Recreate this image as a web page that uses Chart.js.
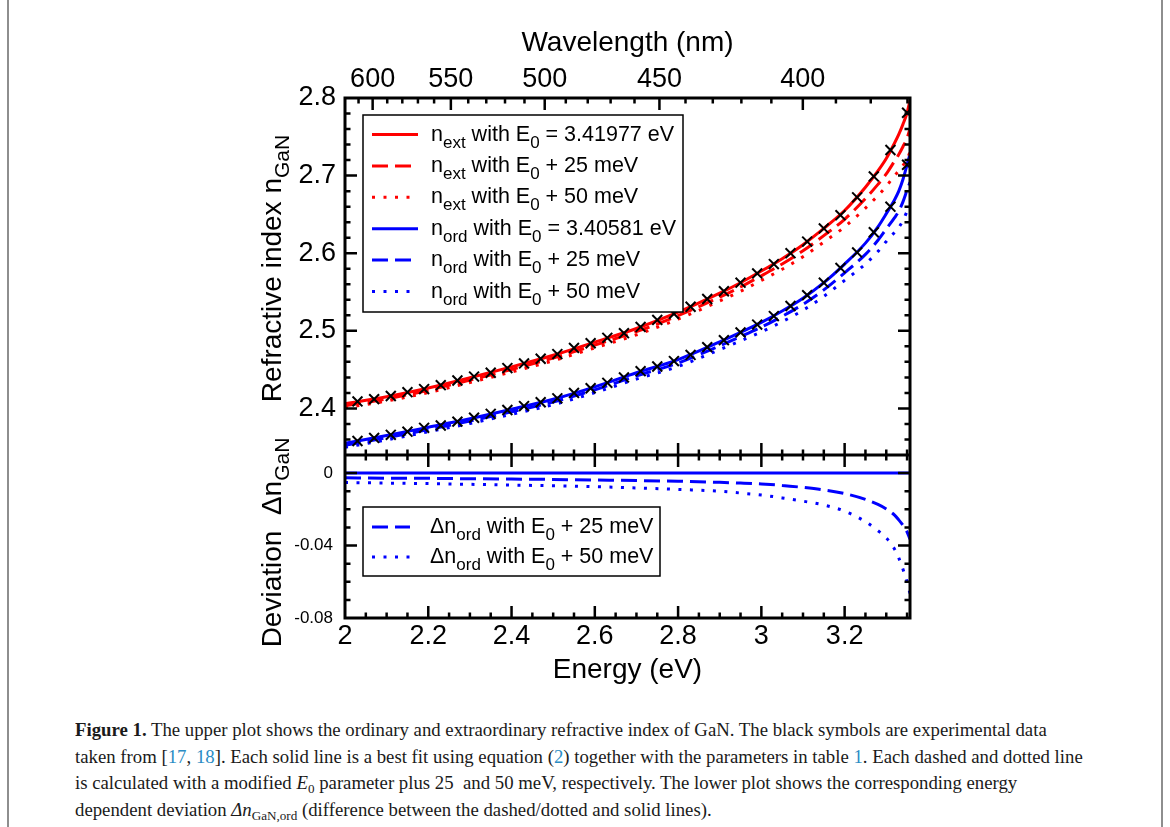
<!DOCTYPE html>
<html>
<head>
<meta charset="utf-8">
<script src="https://cdn.jsdelivr.net/npm/chart.js@4.4.1/dist/chart.umd.min.js"></script>
<style>
html,body{margin:0;padding:0;background:#fff;}
body{width:1170px;height:827px;position:relative;overflow:hidden;}
#c{position:absolute;left:0;top:0;}
.frame{position:absolute;top:0;width:2px;height:827px;background:#8e8e8e;}
#cap{position:absolute;left:75px;top:717px;font-family:"Liberation Serif","DejaVu Serif",serif;font-size:18px;line-height:26.5px;color:#1a1a1a;}
.ln{white-space:nowrap;transform-origin:0 0;height:26.5px;}
.ref{color:#2a8cc4;}
.sb{font-size:70%;position:relative;top:4px;line-height:0;}
</style>
</head>
<body>
<div class="frame" style="left:7px"></div>
<div class="frame" style="left:1161px"></div>
<canvas id="c" width="1170" height="700"></canvas>
<div id="cap">
<div class="ln"><b>Figure 1.</b> The upper plot shows the ordinary and extraordinary refractive index of GaN. The black symbols are experimental data</div>
<div class="ln">taken from [<span class="ref">17</span>, <span class="ref">18</span>]. Each solid line is a best fit using equation (<span class="ref">2</span>) together with the parameters in table <span class="ref">1</span>. Each dashed and dotted line</div>
<div class="ln">is calculated with a modified <i>E</i><span class="sb">0</span> parameter plus 25&nbsp; and 50 meV, respectively. The lower plot shows the corresponding energy</div>
<div class="ln">dependent deviation <i>Δn</i><span class="sb">GaN,ord</span> (difference between the dashed/dotted and solid lines).</div>
</div>
<script>
// ---------------- data ----------------
const energyGrid = [2.0, 2.1, 2.2, 2.3, 2.4, 2.5, 2.6, 2.7, 2.8, 2.9, 2.95, 3.0, 3.05, 3.1, 3.15, 3.2, 3.25, 3.28, 3.30, 3.32, 3.33, 3.34, 3.35, 3.357];
const nExtFit = [2.406, 2.415, 2.4263, 2.4395, 2.4535, 2.4685, 2.4855, 2.503, 2.524, 2.5485, 2.562, 2.577, 2.593, 2.611, 2.632, 2.655, 2.685, 2.706, 2.722, 2.742, 2.753, 2.766, 2.781, 2.797];
const nExt25 = [2.4034, 2.4122, 2.4234, 2.4364, 2.4502, 2.465, 2.4817, 2.4989, 2.5195, 2.5434, 2.5565, 2.571, 2.5862, 2.6031, 2.6227, 2.6437, 2.6705, 2.6887, 2.7022, 2.7188, 2.7272, 2.7372, 2.7485, 2.7605];
const nExt50 = [2.4008, 2.4095, 2.4205, 2.4333, 2.4469, 2.4615, 2.478, 2.4948, 2.515, 2.5385, 2.551, 2.5649, 2.5793, 2.5955, 2.6144, 2.634, 2.6582, 2.6742, 2.6862, 2.7, 2.7062, 2.713, 2.721, 2.7305];
const nOrdFit = [2.355, 2.365, 2.3758, 2.3868, 2.399, 2.4118, 2.4278, 2.446, 2.463, 2.4858, 2.498, 2.5108, 2.5255, 2.542, 2.562, 2.586, 2.613, 2.634, 2.651, 2.669, 2.680, 2.695, 2.714, 2.728];
const nOrd25 = [2.3524, 2.3622, 2.3729, 2.3837, 2.3957, 2.4083, 2.424, 2.4419, 2.4585, 2.4807, 2.4925, 2.5048, 2.5187, 2.5341, 2.5527, 2.5747, 2.5985, 2.6167, 2.6312, 2.6458, 2.6542, 2.6662, 2.6815, 2.6915];
const nOrd50 = [2.3498, 2.3595, 2.37, 2.3806, 2.3924, 2.4048, 2.4203, 2.4378, 2.454, 2.4758, 2.487, 2.4987, 2.5118, 2.5265, 2.5444, 2.565, 2.5862, 2.6022, 2.6152, 2.627, 2.6332, 2.642, 2.654, 2.6615];
const devOrd25 = [-0.0026, -0.0028, -0.0029, -0.0031, -0.0033, -0.0035, -0.0038, -0.0041, -0.0045, -0.0051, -0.0055, -0.0060, -0.0068, -0.0079, -0.0093, -0.0113, -0.0145, -0.0173, -0.0198, -0.0232, -0.0258, -0.0288, -0.0325, -0.0365];
const devOrd50 = [-0.0052, -0.0055, -0.0058, -0.0062, -0.0066, -0.0070, -0.0075, -0.0082, -0.0090, -0.0100, -0.0110, -0.0121, -0.0137, -0.0155, -0.0176, -0.0210, -0.0268, -0.0318, -0.0358, -0.0420, -0.0468, -0.0530, -0.0600, -0.0665];
const devFitEnergy = [2.0, 3.357];
const devOrdFit = [0, 0];
const expEnergy = [2.03, 2.07, 2.11, 2.15, 2.19, 2.23, 2.27, 2.31, 2.35, 2.39, 2.43, 2.47, 2.51, 2.55, 2.59, 2.63, 2.67, 2.71, 2.75, 2.79, 2.83, 2.87, 2.91, 2.95, 2.99, 3.03, 3.07, 3.11, 3.15, 3.19, 3.23, 3.27, 3.31, 3.35];
const expNExt = [2.409, 2.412, 2.416, 2.421, 2.425, 2.430, 2.436, 2.441, 2.446, 2.452, 2.458, 2.464, 2.470, 2.478, 2.484, 2.491, 2.497, 2.505, 2.514, 2.522, 2.531, 2.541, 2.551, 2.562, 2.574, 2.586, 2.600, 2.615, 2.632, 2.649, 2.672, 2.699, 2.733, 2.781];
const expNOrd = [2.358, 2.362, 2.366, 2.370, 2.375, 2.378, 2.383, 2.388, 2.393, 2.398, 2.403, 2.408, 2.413, 2.420, 2.426, 2.433, 2.440, 2.448, 2.454, 2.461, 2.469, 2.479, 2.488, 2.498, 2.508, 2.519, 2.532, 2.546, 2.562, 2.581, 2.601, 2.627, 2.660, 2.714];

// ticks & labels
const energyTicks = [2, 2.2, 2.4, 2.6, 2.8, 3, 3.2];
const energyTickLabels = ['2', '2.2', '2.4', '2.6', '2.8', '3', '3.2'];
const wavelengthTicks = [600, 550, 500, 450, 400];
const nTicks = [2.4, 2.5, 2.6, 2.7, 2.8];
const nTickLabels = ['2.4', '2.5', '2.6', '2.7', '2.8'];
const devTicks = [-0.08, -0.04, 0];
const devTickLabels = ['-0.08', '-0.04', '0'];
const hc = 1239.84; // eV*nm, energy <-> wavelength conversion for top axis

// ---------------- chart ----------------
const FONT = '"Liberation Sans", Arial, sans-serif';
const RED = '#ff0000', BLUE = '#0000ff';
const DASH = [16, 7], DOT = [3, 8.5];
const pts = (xs, ys) => xs.map((x, i) => ({x: x, y: ys[i]}));

function curve(xs, ys, color, dash, axis) {
  return {data: pts(xs, ys), yAxisID: axis, showLine: true, borderColor: color, backgroundColor: color,
    borderWidth: 3, borderDash: dash, pointRadius: 0, cubicInterpolationMode: 'monotone', fill: false, order: 2};
}
function markers(xs, ys) {
  return {data: pts(xs, ys), yAxisID: 'y', showLine: false, pointStyle: 'crossRot', pointRadius: 7,
    pointBorderWidth: 2, pointBorderColor: '#000', pointBackgroundColor: '#000', order: 0};
}

const datasets = [
  curve(energyGrid, nExtFit, RED, [], 'y'),
  curve(energyGrid, nExt25, RED, DASH, 'y'),
  curve(energyGrid, nExt50, RED, DOT, 'y'),
  curve(energyGrid, nOrdFit, BLUE, [], 'y'),
  curve(energyGrid, nOrd25, BLUE, DASH, 'y'),
  curve(energyGrid, nOrd50, BLUE, DOT, 'y'),
  markers(expEnergy, expNExt),
  markers(expEnergy, expNOrd),
  curve(devFitEnergy, devOrdFit, BLUE, [], 'y2'),
  curve(energyGrid, devOrd25, BLUE, DASH, 'y2'),
  curve(energyGrid, devOrd50, BLUE, DOT, 'y2')
];

const legendUpper = [
  {ds: 0, parts: [['n', 0], ['ext', 1], [' with E', 0], ['0', 1], [' = 3.41977 eV', 0]]},
  {ds: 1, parts: [['n', 0], ['ext', 1], [' with E', 0], ['0', 1], [' + 25 meV', 0]]},
  {ds: 2, parts: [['n', 0], ['ext', 1], [' with E', 0], ['0', 1], [' + 50 meV', 0]]},
  {ds: 3, parts: [['n', 0], ['ord', 1], [' with E', 0], ['0', 1], [' = 3.40581 eV', 0]]},
  {ds: 4, parts: [['n', 0], ['ord', 1], [' with E', 0], ['0', 1], [' + 25 meV', 0]]},
  {ds: 5, parts: [['n', 0], ['ord', 1], [' with E', 0], ['0', 1], [' + 50 meV', 0]]}
];
const legendLower = [
  {ds: 9, parts: [['\u0394n', 0], ['ord', 1], [' with E', 0], ['0', 1], [' + 25 meV', 0]]},
  {ds: 10, parts: [['\u0394n', 0], ['ord', 1], [' with E', 0], ['0', 1], [' + 50 meV', 0]]}
];

function drawRich(ctx, parts, x, y, align, f, fs, dy) {
  let w = 0;
  for (const [t, s] of parts) { ctx.font = (s ? fs : f) + 'px ' + FONT; w += ctx.measureText(t).width; }
  let cx = align === 'center' ? x - w / 2 : x;
  ctx.textAlign = 'left'; ctx.textBaseline = 'alphabetic';
  for (const [t, s] of parts) {
    ctx.font = (s ? fs : f) + 'px ' + FONT;
    ctx.fillText(t, cx, y + (s ? dy : 0));
    cx += ctx.measureText(t).width;
  }
}

function drawLegend(chart, items, box, rowY0, rowStep, lineX0, lineX1, textX) {
  const ctx = chart.ctx;
  ctx.save();
  ctx.fillStyle = '#fff';
  ctx.fillRect(box.x, box.y, box.w, box.h);
  ctx.strokeStyle = '#000'; ctx.lineWidth = 1.5; ctx.setLineDash([]);
  ctx.strokeRect(box.x, box.y, box.w, box.h);
  items.forEach((it, i) => {
    const ds = chart.data.datasets[it.ds];
    const y = rowY0 + i * rowStep;
    ctx.strokeStyle = ds.borderColor; ctx.lineWidth = 3; ctx.setLineDash(ds.borderDash || []);
    ctx.beginPath(); ctx.moveTo(lineX0, y); ctx.lineTo(lineX1, y); ctx.stroke();
    ctx.setLineDash([]);
    ctx.fillStyle = '#000';
    drawRich(ctx, it.parts, textX, y + 6, 'left', 21.5, 17, 7);
  });
  ctx.restore();
}

const decorPlugin = {
  id: 'decor',
  afterDatasetsDraw(chart) {
    const ctx = chart.ctx, ca = chart.chartArea;
    const sx = chart.scales.x, sy = chart.scales.y, sy2 = chart.scales.y2;
    const divY = sy.bottom;
    const L = ca.left, R = ca.right;
    // legends
    drawLegend(chart, legendUpper, {x: L + 18, y: ca.top + 17, w: 320, h: 197}, ca.top + 36.5, 31.4, L + 27, L + 73, L + 86);
    drawLegend(chart, legendLower, {x: L + 18, y: divY + 52, w: 297, h: 69}, divY + 72, 30, L + 27, L + 65, L + 85);
    // ticks
    ctx.save();
    ctx.strokeStyle = '#000'; ctx.lineWidth = 2.5; ctx.setLineDash([]);
    ctx.beginPath();
    const MAJ = 12, MIN = 5.5;
    // energy ticks every 0.05
    for (let k = 1; k * 0.05 + 2 < sx.max - 1e-6; k++) {
      const v = 2 + k * 0.05;
      const major = k % 4 === 0;
      const len = major ? MAJ : MIN;
      const x = sx.getPixelForValue(v);
      ctx.moveTo(x, divY); ctx.lineTo(x, divY - len);
      ctx.moveTo(x, divY); ctx.lineTo(x, divY + len);
      ctx.moveTo(x, ca.bottom); ctx.lineTo(x, ca.bottom - len);
    }
    // wavelength ticks every 10 nm
    for (let lam = 610; lam >= 370; lam -= 10) {
      const e = hc / lam;
      if (e <= sx.min || e >= sx.max) continue;
      const x = sx.getPixelForValue(e);
      const len = lam % 50 === 0 ? MAJ : MIN;
      ctx.moveTo(x, ca.top); ctx.lineTo(x, ca.top + len);
    }
    // refractive index ticks every 0.02
    for (let k = 1; 2.34 + k * 0.02 < 2.8 - 1e-6; k++) {
      const v = 2.34 + k * 0.02;
      const major = Math.abs(v * 10 - Math.round(v * 10)) < 1e-6;
      const len = major ? MAJ : MIN;
      const y = sy.getPixelForValue(v);
      ctx.moveTo(L, y); ctx.lineTo(L + len, y);
      ctx.moveTo(R, y); ctx.lineTo(R - len, y);
    }
    // deviation ticks every 0.01
    for (let k = 1; k < 9; k++) {
      const v = -0.08 + k * 0.01;
      const major = k % 4 === 0;
      const len = major ? MAJ : MIN;
      const y = sy2.getPixelForValue(v);
      ctx.moveTo(L, y); ctx.lineTo(L + len, y);
      ctx.moveTo(R, y); ctx.lineTo(R - len, y);
    }
    ctx.stroke();
    // frame + divider
    ctx.lineWidth = 3;
    ctx.strokeRect(L, ca.top, R - L, ca.bottom - ca.top);
    ctx.beginPath(); ctx.moveTo(L, divY); ctx.lineTo(R, divY); ctx.stroke();
    // y-axis titles
    ctx.fillStyle = '#000';
    ctx.save();
    ctx.translate(L - 64, (sy.top + sy.bottom) / 2 - 8);
    ctx.rotate(-Math.PI / 2);
    drawRich(ctx, [['Refractive index n', 0], ['GaN', 1]], 0, 0, 'center', 28, 21, 8);
    ctx.restore();
    ctx.save();
    ctx.translate(L - 64, (sy2.top + sy2.bottom) / 2 + 6);
    ctx.rotate(-Math.PI / 2);
    drawRich(ctx, [['Deviation  \u0394n', 0], ['GaN', 1]], 0, 0, 'center', 28, 21, 8);
    ctx.restore();
    ctx.restore();
  }
};

const tickFont = {family: FONT, size: 27};
const titleFont = {family: FONT, size: 28};

new Chart(document.getElementById('c'), {
  type: 'scatter',
  data: {datasets: datasets},
  plugins: [decorPlugin],
  options: {
    responsive: false, animation: false, devicePixelRatio: 1, events: [],
    layout: {padding: {left: 0, right: 260, top: 0, bottom: 0}},
    plugins: {legend: {display: false}, tooltip: {enabled: false}},
    scales: {
      x: {
        type: 'linear', position: 'bottom', min: 2, max: 3.357,
        grid: {display: false}, border: {display: false},
        afterBuildTicks: s => { s.ticks = energyTicks.map(v => ({value: v})); },
        afterFit: s => { s.height = 82; },
        ticks: {font: tickFont, color: '#000', padding: -6, autoSkip: false, maxRotation: 0,
          callback: (v, i) => energyTickLabels[i]},
        title: {display: true, text: 'Energy (eV)', font: titleFont, color: '#000', padding: {top: 0, bottom: 13}}
      },
      x2: {
        type: 'linear', position: 'top', min: 2, max: 3.357,
        grid: {display: false}, border: {display: false},
        afterBuildTicks: s => { s.ticks = wavelengthTicks.map(l => ({value: hc / l})); },
        afterFit: s => { s.height = 98; },
        ticks: {font: tickFont, color: '#000', padding: -6, autoSkip: false, maxRotation: 0,
          callback: (v, i) => String(wavelengthTicks[i])},
        title: {display: true, text: 'Wavelength (nm)', font: titleFont, color: '#000', padding: {top: 26, bottom: 0}}
      },
      y: {
        type: 'linear', position: 'left', stack: 'v', stackWeight: 357, weight: 2,
        min: 2.34, max: 2.8,
        grid: {display: false}, border: {display: false},
        afterBuildTicks: s => { s.ticks = nTicks.map(v => ({value: v})); },
        afterFit: s => { s.width = 345; },
        ticks: {font: tickFont, color: '#000', padding: 1, autoSkip: false, callback: (v, i) => nTickLabels[i]}
      },
      y2: {
        type: 'linear', position: 'left', stack: 'v', stackWeight: 163, weight: 1,
        min: -0.08, max: 0.01,
        grid: {display: false}, border: {display: false},
        afterBuildTicks: s => { s.ticks = devTicks.map(v => ({value: v})); },
        afterFit: s => { s.width = 345; },
        ticks: {font: {family: FONT, size: 17}, color: '#000', padding: 4, autoSkip: false, callback: (v, i) => devTickLabels[i]}
      }
    }
  }
});

// fit caption lines to the reference line width
(function () {
  const lines = document.querySelectorAll('#cap .ln');
  const w = lines[0].scrollWidth;
  const k = 1008 / w;
  lines.forEach(l => { l.style.transform = 'scaleX(' + k + ')'; });
})();
</script>
</body>
</html>
